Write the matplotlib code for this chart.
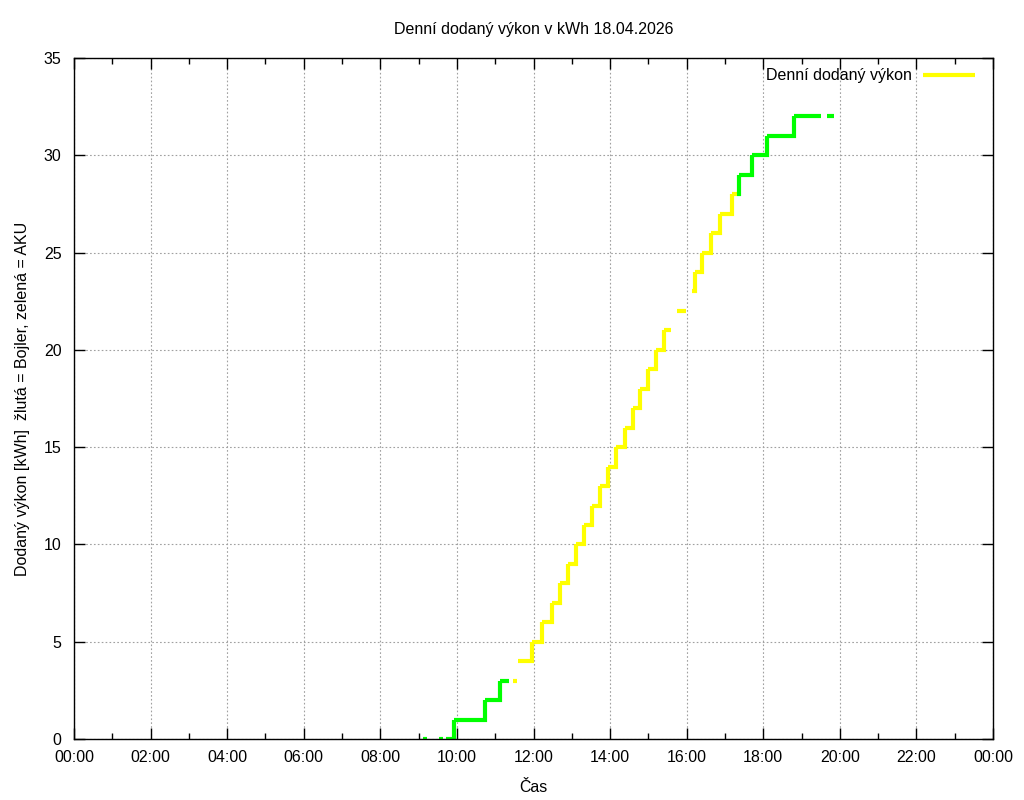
"""Denní dodaný výkon - step chart in gnuplot style (yellow = Bojler, green = AKU)."""

import matplotlib

matplotlib.use("Agg")

import matplotlib.pyplot as plt
import numpy as np
from matplotlib.ticker import FixedLocator, MultipleLocator

nan = np.nan

# step change times (hours), energy [kWh] after the change, and target (A = AKU, B = Bojler)
times = [9.11, 9.21, 9.54, 9.645, 9.72, 9.92, 10.73, 11.13, 11.37, 11.47, 11.58,
         11.60, 11.95, 12.21, 12.48, 12.69, 12.91, 13.11, 13.32, 13.52, 13.74,
         13.94, 14.16, 14.39, 14.61, 14.78, 15.00, 15.20, 15.42, 15.58, 15.76,
         15.98, 16.13, 16.22, 16.39, 16.64, 16.87, 17.18, 17.31, 17.37, 17.71,
         18.09, 18.81, 19.51, 19.67, 19.85]
kwh = [0, nan, 0, nan, 0, 1, 2, 3, nan, 3, nan,
       4, 5, 6, 7, 8, 9, 10, 11, 12, 13,
       14, 15, 16, 17, 18, 19, 20, 21, nan, 22,
       nan, 23, 24, 25, 26, 27, 28, 28, 29, 30,
       31, 32, nan, 32, nan]
target = ["A", "A", "A", "A", "A", "A", "A", "A", "A", "B", "B",
          "B", "B", "B", "B", "B", "B", "B", "B", "B", "B",
          "B", "B", "B", "B", "B", "B", "B", "B", "B", "B",
          "B", "B", "B", "B", "B", "B", "B", "A", "A", "A",
          "A", "A", "A", "A", "A"]

x_ticks = list(range(0, 25, 2))
x_labels = ["%02d:00" % (h % 24) for h in x_ticks]
y_ticks = [0, 5, 10, 15, 20, 25, 30, 35]

COLORS = {"A": "#00ff00", "B": "#ffff00"}

plt.rcParams["font.family"] = ["Liberation Sans", "DejaVu Sans"]
plt.rcParams["font.size"] = 11.5

fig = plt.figure(figsize=(10.24, 8), dpi=100)
ax = fig.add_axes([74 / 1024, 61 / 800, 919 / 1024, 681 / 800])

# gnuplot-like steps: horizontal at current value, then vertical to the next one
for i in range(len(times) - 1):
    v = kwh[i]
    if np.isnan(v):
        continue
    col = COLORS[target[i]]
    xs = [times[i], times[i + 1]]
    ys = [v, v]
    if not np.isnan(kwh[i + 1]):
        xs.append(times[i + 1])
        ys.append(kwh[i + 1])
    ax.plot(xs, ys, color=col, lw=3, solid_capstyle="butt", solid_joinstyle="miter")

# legend sample drawn by hand (no frame, text left of the line)
ax.plot([0.924, 0.980], [0.975, 0.975], transform=ax.transAxes, color="#ffff00", lw=3,
        solid_capstyle="butt")
ax.text(0.912, 0.975, "Denní dodaný výkon", transform=ax.transAxes, ha="right",
        va="center", fontsize=11.5)

ax.set_xlim(0, 24)
ax.set_ylim(0, 35)
ax.xaxis.set_major_locator(FixedLocator(x_ticks))
ax.set_xticklabels(x_labels)
ax.xaxis.set_minor_locator(MultipleLocator(1))
ax.set_yticks(y_ticks)

ax.tick_params(which="both", direction="in", top=True, right=True, width=1)
ax.tick_params(which="major", length=8)
ax.tick_params(which="minor", length=4)
ax.tick_params(axis="x", pad=8)
ax.tick_params(axis="y", pad=9)
for sp in ax.spines.values():
    sp.set_linewidth(1)

ax.grid(True, which="major", color="#a0a0a0", linestyle=(0, (1.5, 2)), lw=0.8)
ax.set_axisbelow(True)

ax.set_title("Denní dodaný výkon v kWh 18.04.2026", fontsize=11.5, pad=17)
ax.set_xlabel("Čas", labelpad=11)
ax.set_ylabel("Dodaný výkon [kWh]  žlutá = Bojler, zelená = AKU", labelpad=10)

fig.savefig("out.png", dpi=100)
